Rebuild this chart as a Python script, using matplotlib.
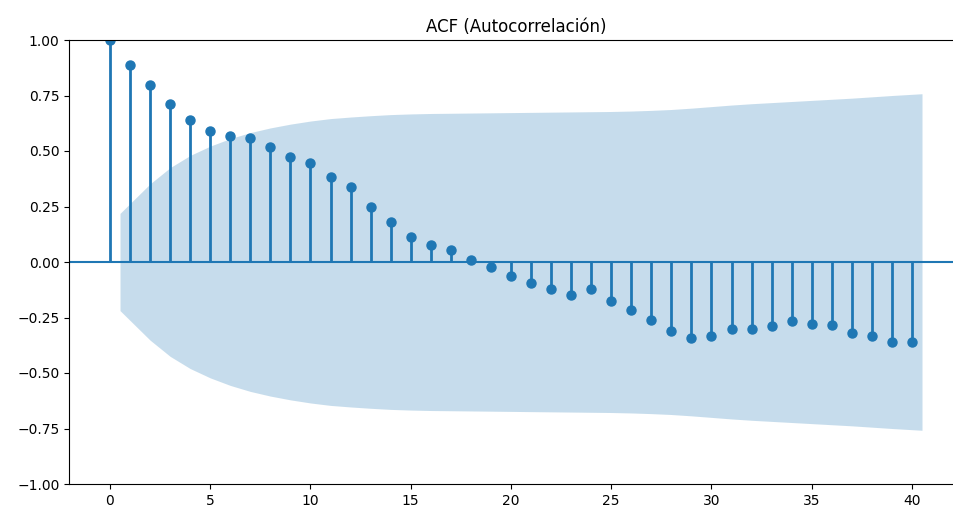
import matplotlib

matplotlib.use("Agg")
import matplotlib.pyplot as plt
import numpy as np

# ACF values, lag 0..40
lags = list(range(41))
acf_vals = [
    1.000, 0.887, 0.797, 0.710, 0.638, 0.592, 0.566, 0.560, 0.518, 0.471,
    0.446, 0.384, 0.336, 0.248, 0.180, 0.113, 0.075, 0.055, 0.008, -0.021,
    -0.064, -0.096, -0.122, -0.147, -0.122, -0.174, -0.215, -0.263, -0.309, -0.341,
    -0.335, -0.303, -0.303, -0.288, -0.267, -0.278, -0.284, -0.318, -0.335, -0.360,
    -0.360,
]
# half-width of the 95% confidence band for lags 1..40
band = [
    0.219, 0.352, 0.425, 0.480, 0.522, 0.556, 0.583, 0.604, 0.621, 0.635,
    0.646, 0.653, 0.659, 0.664, 0.667, 0.669, 0.670, 0.671, 0.672, 0.673,
    0.674, 0.675, 0.676, 0.677, 0.678, 0.680, 0.683, 0.687, 0.693, 0.700,
    0.707, 0.713, 0.718, 0.723, 0.728, 0.733, 0.738, 0.744, 0.750, 0.758,
]

fig = plt.figure(figsize=(9.54, 5.09), dpi=100)
# right edge of the axes falls just outside the picture (cropped in the reference)
ax = fig.add_axes([69.4 / 954, 25 / 509, 893.2 / 954, 444 / 509])

x = np.array(lags, dtype=float)
ax.vlines(x, 0, acf_vals, color="C0", linewidth=2)
ax.axhline(0, color="C0", linewidth=1.5)
ax.plot(x, acf_vals, "o", color="C0", markersize=6.5)

band_x = x[1:].copy()
band_x[0] -= 0.5
band_x[-1] += 0.5
b = np.array(band)
ax.fill_between(band_x, -b, b, color="C0", alpha=0.25, linewidth=0)

ax.set_xlim(-2.025, 42.525)
ax.set_ylim(-1, 1)
ax.spines["right"].set_visible(False)
ax.set_title("ACF (Autocorrelación)", fontsize=12)

fig.savefig("out.png", dpi=100)
